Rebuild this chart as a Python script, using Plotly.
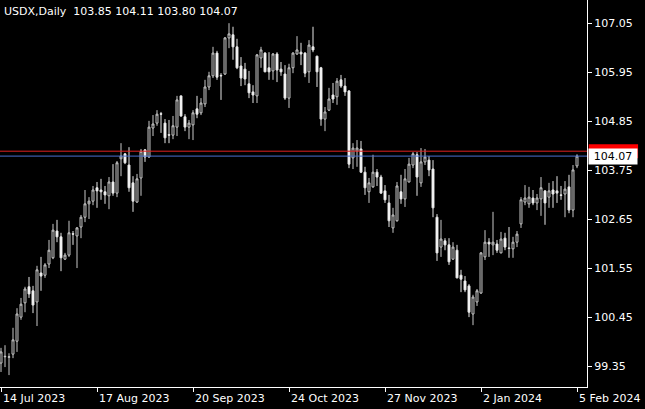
import plotly.graph_objects as go

symbol_title = "USDX,Daily  103.85 104.11 103.80 104.07"

opens = [99.43, 99.57, 99.56, 99.63, 99.92, 100.46, 100.78, 101.14, 101.05, 100.80,
         101.45, 101.40, 101.65, 101.79, 102.39, 102.26, 101.76, 101.85, 102.33, 102.28,
         102.48, 102.70, 103.00, 103.06, 103.36, 103.31, 103.27, 103.18, 103.49, 103.24,
         104.01, 104.12, 103.87, 103.47, 103.04, 103.58, 104.21, 104.05, 104.70, 104.81,
         105.02, 104.81, 104.55, 104.54, 104.72, 105.42, 104.95, 104.72, 104.77, 105.13,
         105.04, 105.24, 105.62, 105.87, 106.38, 105.88, 105.91, 106.72, 106.79, 106.52,
         106.09, 106.02, 105.69, 105.51, 105.42, 106.27, 106.38, 106.05, 105.98, 106.36,
         106.02, 105.91, 105.37, 106.05, 106.36, 106.40, 106.38, 105.96, 106.52, 106.31,
         106.05, 104.90, 105.10, 105.44, 105.40, 105.78, 105.64, 105.53, 104.03, 104.18,
         104.23, 103.71, 103.27, 103.38, 103.71, 103.60, 103.29, 103.02, 102.46, 102.62,
         103.27, 103.11, 103.49, 103.87, 104.10, 103.47, 103.94, 103.98, 103.78, 102.70,
         102.03, 102.17, 102.08, 101.76, 101.96, 101.40, 101.27, 101.16, 100.53, 100.80,
         101.00, 101.81, 102.14, 102.08, 102.10, 101.90, 102.23, 102.01, 101.99, 102.14,
         102.55, 103.04, 103.00, 103.13, 103.02, 103.11, 103.29, 103.15, 103.31, 103.29,
         103.20, 103.22, 103.38, 102.86, 103.85]
highs = [99.77, 99.83, 99.65, 100.22, 100.66, 100.89, 101.14, 101.36, 101.16, 101.61,
         101.81, 101.67, 102.19, 102.55, 102.64, 102.35, 101.90, 102.62, 102.39, 102.48,
         102.75, 103.31, 103.15, 103.40, 103.49, 103.56, 103.40, 103.60, 103.89, 103.96,
         104.36, 104.14, 104.27, 103.62, 103.67, 104.23, 104.23, 104.86, 104.99, 105.10,
         105.06, 104.90, 104.88, 104.97, 105.42, 105.43, 105.01, 104.88, 105.10, 105.42,
         105.37, 105.78, 105.96, 106.52, 106.43, 105.93, 106.74, 107.05, 106.97, 106.70,
         106.29, 106.16, 105.98, 105.66, 106.36, 106.52, 106.40, 106.40, 106.38, 106.40,
         106.18, 106.11, 106.14, 106.40, 106.76, 106.61, 106.40, 106.67, 106.97, 106.32,
         106.07, 105.17, 105.60, 105.71, 105.82, 105.89, 105.82, 105.55, 104.36, 104.43,
         104.41, 103.83, 103.58, 104.10, 103.78, 103.65, 103.42, 103.20, 102.91, 103.49,
         103.65, 103.78, 104.03, 104.16, 104.16, 104.25, 104.23, 104.07, 103.98, 102.77,
         102.64, 102.23, 102.23, 102.14, 102.08, 101.52, 101.38, 101.20, 100.96, 101.09,
         101.92, 102.41, 102.23, 102.82, 102.19, 102.37, 102.35, 102.48, 102.26, 102.39,
         103.15, 103.42, 103.38, 103.31, 103.22, 103.60, 103.31, 103.47, 103.51, 103.62,
         103.40, 103.51, 103.65, 103.87, 104.11]
lows = [99.23, 99.34, 99.16, 99.54, 99.68, 100.40, 100.57, 100.89, 100.55, 100.26,
        101.05, 101.34, 101.56, 101.76, 102.14, 101.49, 101.74, 101.81, 102.08, 101.56,
        102.23, 102.59, 102.66, 102.97, 102.91, 103.09, 103.00, 102.88, 103.18, 103.15,
        103.62, 103.89, 103.27, 102.82, 103.02, 103.18, 103.94, 104.03, 104.52, 104.75,
        104.59, 104.36, 104.36, 104.45, 104.52, 104.95, 104.63, 104.45, 104.43, 104.92,
        104.99, 105.17, 105.55, 105.82, 105.78, 105.33, 105.89, 106.49, 106.23, 106.02,
        105.64, 105.66, 105.37, 105.26, 105.26, 106.05, 105.95, 105.78, 105.78, 105.73,
        105.87, 105.33, 105.15, 105.93, 106.34, 106.11, 105.84, 105.71, 106.40, 105.62,
        104.75, 104.63, 105.08, 105.26, 105.22, 105.60, 105.42, 103.80, 103.78, 103.83,
        103.69, 103.20, 103.02, 103.36, 103.40, 103.22, 103.02, 102.48, 102.35, 102.60,
        103.00, 102.93, 103.48, 103.80, 103.18, 103.38, 103.87, 103.62, 102.70, 101.72,
        101.81, 101.96, 101.63, 101.74, 101.33, 101.02, 101.02, 100.46, 100.28, 100.71,
        100.98, 101.74, 101.81, 101.85, 101.90, 101.89, 101.96, 101.79, 101.79, 102.03,
        102.46, 102.97, 102.91, 102.97, 102.86, 102.73, 102.53, 102.91, 102.91, 103.02,
        103.09, 102.70, 102.79, 102.70, 103.80]
closes = [99.68, 99.58, 99.57, 99.95, 100.53, 100.75, 101.09, 100.98, 100.73, 101.52,
          101.38, 101.63, 101.96, 102.41, 102.26, 101.79, 101.85, 102.35, 102.32, 102.46,
          102.70, 103.00, 103.06, 103.31, 103.29, 103.27, 103.20, 103.49, 103.24, 103.92,
          104.07, 103.92, 103.36, 103.06, 103.56, 104.18, 104.05, 104.72, 104.79, 105.01,
          105.01, 104.48, 104.54, 104.75, 105.33, 104.97, 104.72, 104.81, 105.04, 105.01,
          105.26, 105.62, 105.87, 106.38, 105.84, 105.87, 106.72, 106.81, 106.52, 106.05,
          105.82, 105.80, 105.49, 105.44, 106.34, 106.45, 105.96, 105.96, 106.36, 106.00,
          105.96, 105.37, 106.05, 106.38, 106.45, 106.36, 105.93, 106.56, 106.45, 105.96,
          104.90, 105.06, 105.35, 105.35, 105.75, 105.64, 105.51, 103.89, 104.25, 104.25,
          103.71, 103.36, 103.47, 103.71, 103.60, 103.24, 103.09, 102.62, 102.75, 103.40,
          103.11, 103.56, 103.89, 104.12, 103.60, 103.94, 104.05, 103.76, 102.91, 101.90,
          102.21, 102.08, 101.70, 102.03, 101.34, 101.31, 101.07, 100.57, 100.91, 101.05,
          101.90, 102.14, 102.10, 102.14, 101.96, 102.21, 102.03, 102.00, 102.14, 102.32,
          103.09, 103.13, 103.15, 103.02, 103.13, 103.36, 103.02, 103.29, 103.22, 103.24,
          103.19, 103.33, 102.86, 103.76, 104.07]

bid_price = 104.07
ask_price = 104.18

price_ticks = [99.35, 100.45, 101.55, 102.65, 103.75, 104.85, 105.95, 107.05]
date_tick_index = [0, 24, 48, 72, 96, 120, 144]
date_tick_labels = ["14 Jul 2023", "17 Aug 2023", "20 Sep 2023", "24 Oct 2023",
                    "27 Nov 2023", "2 Jan 2024", "5 Feb 2024"]

x = list(range(len(closes)))
FONT = "DejaVu Sans"
Y_RANGE = [98.893, 107.57]
PLOT_H = 387.0
label_half = 7.0 * (Y_RANGE[1] - Y_RANGE[0]) / PLOT_H  # half-height of a 14px label box

fig = go.Figure()
fig.add_trace(go.Candlestick(
    x=x, open=opens, high=highs, low=lows, close=closes,
    increasing=dict(line=dict(color="#c8c8c8", width=1), fillcolor="#000000"),
    decreasing=dict(line=dict(color="#e6e6e6", width=1), fillcolor="#ffffff"),
    whiskerwidth=0, showlegend=False, hoverinfo="skip",
))

# ask (red) and bid (blue) lines
fig.add_shape(type="line", xref="paper", x0=0, x1=1, yref="y", y0=ask_price, y1=ask_price,
              line=dict(color="#e02020", width=1))
fig.add_shape(type="line", xref="paper", x0=0, x1=1, yref="y", y0=bid_price, y1=bid_price,
              line=dict(color="#4a6fd0", width=1))

# ask label box (mostly hidden behind the bid label)
fig.add_shape(type="rect", xref="paper", x0=1.003, x1=1.087, yref="y",
              y0=ask_price - label_half, y1=ask_price + label_half,
              fillcolor="#ff0000", line=dict(width=0), layer="above")
fig.add_annotation(xref="paper", x=1, xanchor="left", xshift=1, yref="y", y=bid_price,
                   text="%.2f" % bid_price, showarrow=False, bgcolor="#ffffff",
                   font=dict(family=FONT, size=11, color="#000000"), borderpad=1, width=46)

# date labels, left aligned on their ticks
for xi, lab in zip(date_tick_index, date_tick_labels):
    fig.add_annotation(xref="x", x=xi, xanchor="left", yref="paper", y=0, yanchor="top",
                       yshift=-3, text=lab, showarrow=False,
                       font=dict(family=FONT, size=11, color="#ffffff"))

fig.add_annotation(xref="paper", x=0, xanchor="left", xshift=2, yref="paper", y=1,
                   yanchor="top", yshift=-3, text=symbol_title, showarrow=False,
                   font=dict(family=FONT, size=11, color="#ffffff"))

fig.update_layout(
    width=645, height=409,
    margin=dict(l=0, r=58, t=0, b=22),
    paper_bgcolor="#000000", plot_bgcolor="#000000",
    xaxis=dict(range=[-0.25, 146.5], rangeslider=dict(visible=False), showgrid=False,
               zeroline=False, showline=True, linecolor="#ffffff", linewidth=1,
               tickvals=date_tick_index, ticktext=["" for _ in date_tick_index],
               ticks="outside", ticklen=4, tickcolor="#ffffff"),
    yaxis=dict(range=Y_RANGE, side="right", showgrid=False, zeroline=False,
               showline=True, linecolor="#ffffff", linewidth=1,
               tickvals=price_ticks, ticktext=["%.2f" % v for v in price_ticks],
               ticks="outside", ticklen=4, tickcolor="#ffffff",
               tickfont=dict(family=FONT, size=11, color="#ffffff")),
)

fig.write_html("out.html", config={"displayModeBar": False},
               post_script="document.body.style.margin='0';document.body.style.background='#000';")
